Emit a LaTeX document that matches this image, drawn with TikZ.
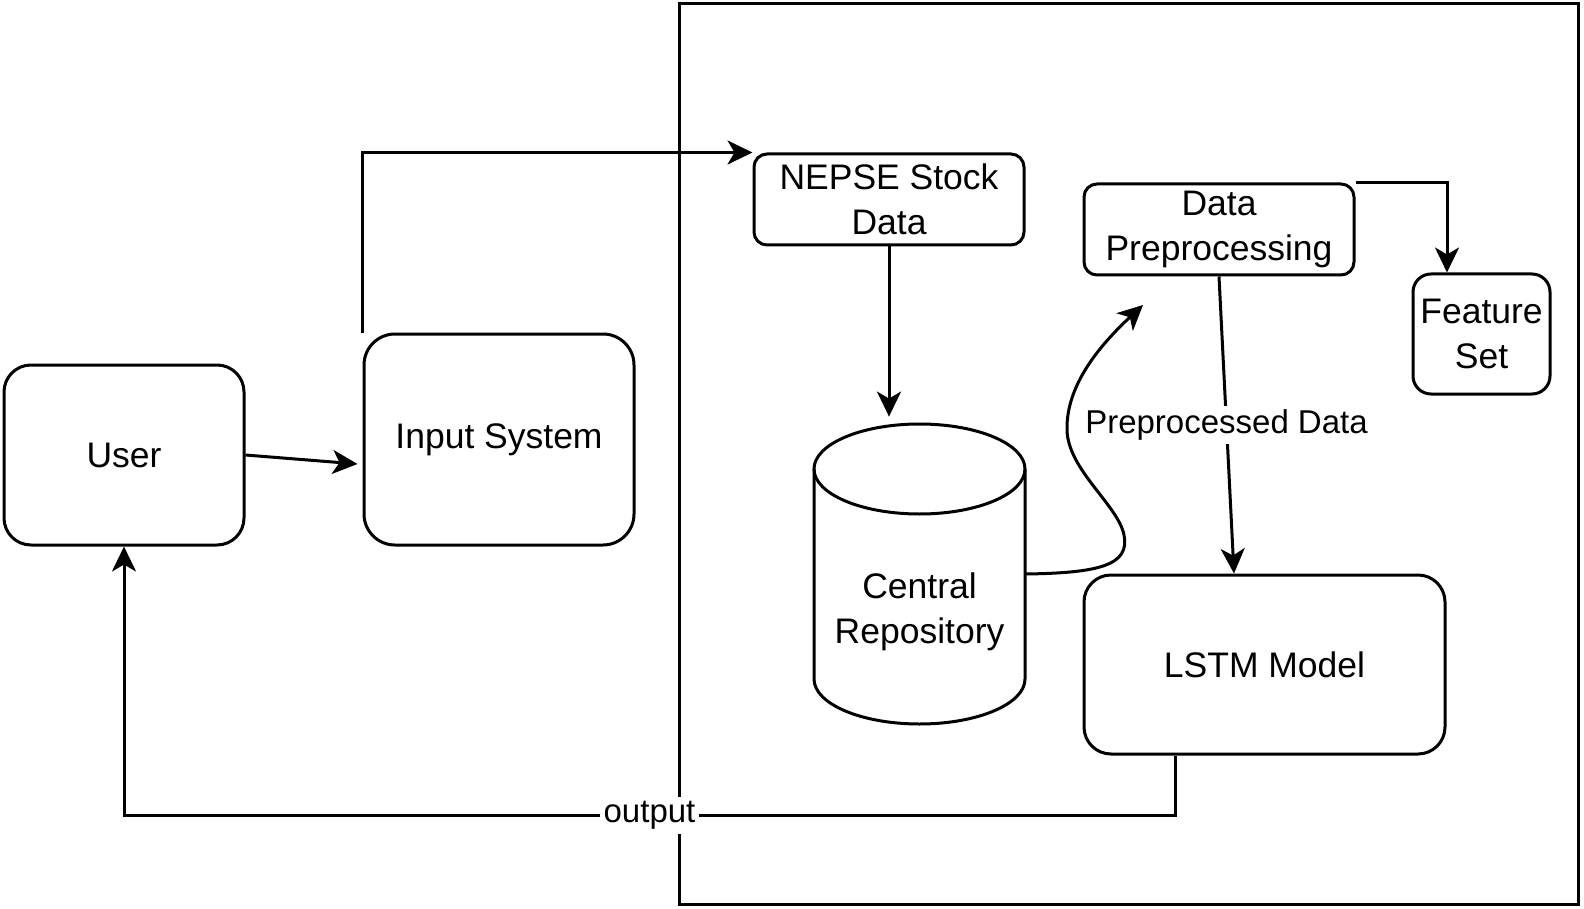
\documentclass[tikz,border=0pt]{standalone}
\usepackage{fontspec}
\setmainfont{Liberation Sans}
\usetikzlibrary{arrows.meta}

\begin{document}
\begin{tikzpicture}[
    x = 0.5pt, y = -0.5pt,
    box/.style = {shape = rectangle, draw, line width = 1.5pt, rounded corners = #1, align = center, inner sep = 0pt, font = \fontsize{17.75pt}{22.5pt}\selectfont},
    box/.default = 13.5pt,
    arr/.style = {-{Stealth[length = 12.5pt, width = 12pt, inset = 3.5pt]}, line width = 1.5pt},
    lbl/.style = {fill = white, inner sep = 2pt, font = \fontsize{16.5pt}{20pt}\selectfont},
    ]
    \useasboundingbox (0,0) rectangle (1584,909);
    \draw[line width = 1.5pt] (679,4) rectangle (1578,904);

    \node[box = 13.5pt, minimum width = 120pt, minimum height = 90pt] (A) at (124,455) {User};
    \node[box = 15.5pt, minimum width = 135pt, minimum height = 105.5pt] (B) at (499,439.5) {Input System};
    \node[box = 6.5pt, minimum width = 135pt, minimum height = 45.5pt] (C) at (889,199.5) {NEPSE Stock\\Data};
    \node[minimum width = 105.5pt, minimum height = 150pt] (D) at (919.5,574) {};
    \node[box = 6.5pt, minimum width = 135pt, minimum height = 45.5pt] (E) at (1219,229.5) {Data\\Preprocessing};
    \node[box = 9pt, minimum width = 68.5pt, minimum height = 60pt] (F) at (1481.5,334) {Feature\\Set};
    \node[box = 13.5pt, minimum width = 180.5pt, minimum height = 89.5pt] (G) at (1264.5,664.5) {LSTM Model};

    % cylinder round D
    \draw[line width = 1.5pt] (814,469) -- (814,679) arc[start angle = 180, end angle = 360, x radius = 52.75pt, y radius = 22.5pt] -- (1025,469);
    \draw[line width = 1.5pt] (919.5,469) ellipse [x radius = 52.75pt, y radius = 22.5pt];
    \node[box, draw = none] (D1) at (919.5,612) {Central\\Repository};

    \coordinate (H) at (1143,305);

    \path[arr] (A.east) edge ([xshift = -2.5pt, yshift = -12.25pt]B.west);
    \draw[arr] (B.north west) |- (C.north west);
    \path[arr] (C) edge[shorten >= 3.5pt] (C |- D.north);
    \draw[arr] (D.east) .. controls (1100,573) and (1130,565) .. (1124,535) .. controls (1118,505) and (1068,470) .. (1067,430) .. controls (1066,385) and (1100,345) .. (H);
    \path[arr] (E.south) edge node[lbl] {Preprocessed Data} ([xshift = -15.25pt]G.north);
    \draw[arr] (E.north east) -| ([xshift = -17.25pt]F.north);
    \draw[arr] ([xshift = -44.75pt]G.south) -- ++(0,60) -| node[lbl, pos = 0.25] {output} (A.south);
\end{tikzpicture}
\end{document}
